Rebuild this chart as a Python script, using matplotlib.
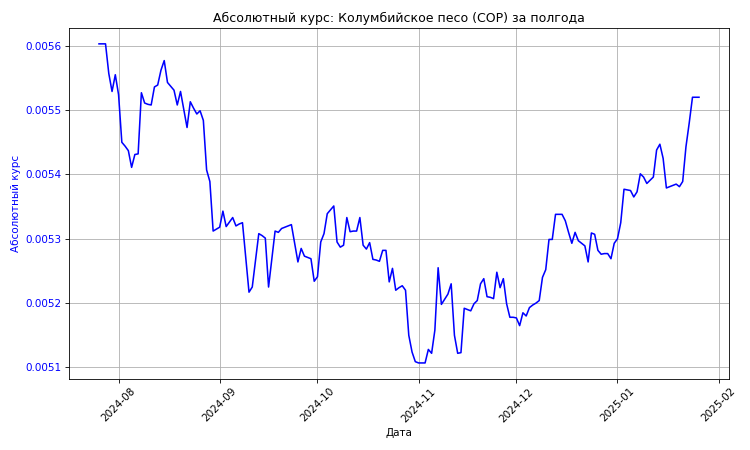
import matplotlib
matplotlib.use("Agg")
import matplotlib.pyplot as plt
import pandas as pd

# daily rates, 2024-07-26 .. 2025-01-26
start_date = "2024-07-26"

jul = [0.005603, 0.005603, 0.005603, 0.005557, 0.005529, 0.005555]
aug = [0.005524, 0.005450, 0.005444, 0.005437, 0.005411, 0.005431, 0.005432,
       0.005527, 0.005511, 0.005509, 0.005508, 0.005536, 0.005539, 0.005562,
       0.005577, 0.005543, 0.005537, 0.005531, 0.005508, 0.005529, 0.005501,
       0.005473, 0.005513, 0.005503, 0.005494, 0.005499, 0.005484, 0.005407,
       0.005389, 0.005312, 0.005315]
sep = [0.005318, 0.005343, 0.005319, 0.005326, 0.005333, 0.005320, 0.005323,
       0.005325, 0.005271, 0.005217, 0.005225, 0.005267, 0.005308, 0.005305,
       0.005301, 0.005225, 0.005268, 0.005312, 0.005310, 0.005316, 0.005318,
       0.005320, 0.005322, 0.005293, 0.005264, 0.005285, 0.005273, 0.005271,
       0.005269, 0.005234]
oct_ = [0.005241, 0.005295, 0.005308, 0.005339, 0.005345, 0.005351, 0.005295,
        0.005287, 0.005290, 0.005333, 0.005311, 0.005312, 0.005312, 0.005333,
        0.005290, 0.005284, 0.005294, 0.005268, 0.005267, 0.005265, 0.005282,
        0.005282, 0.005233, 0.005254, 0.005220, 0.005224, 0.005227, 0.005220,
        0.005150, 0.005124, 0.005109]
nov = [0.005107, 0.005107, 0.005107, 0.005128, 0.005122, 0.005158, 0.005255,
       0.005198, 0.005206, 0.005214, 0.005230, 0.005150, 0.005122, 0.005123,
       0.005192, 0.005190, 0.005188, 0.005199, 0.005204, 0.005230, 0.005238,
       0.005210, 0.005209, 0.005207, 0.005248, 0.005224, 0.005238, 0.005199,
       0.005178, 0.005178]
dec = [0.005177, 0.005165, 0.005185, 0.005180, 0.005193, 0.005197, 0.005200,
       0.005204, 0.005240, 0.005252, 0.005299, 0.005299, 0.005338, 0.005338,
       0.005338, 0.005328, 0.005310, 0.005293, 0.005310, 0.005297, 0.005293,
       0.005289, 0.005264, 0.005309, 0.005307, 0.005282, 0.005276, 0.005277,
       0.005277, 0.005269, 0.005293]
jan = [0.005300, 0.005325, 0.005377, 0.005376, 0.005375, 0.005365, 0.005373,
       0.005401, 0.005396, 0.005386, 0.005391, 0.005396, 0.005438, 0.005447,
       0.005425, 0.005379, 0.005381, 0.005383, 0.005385, 0.005381, 0.005389,
       0.005443, 0.005480, 0.005520, 0.005520, 0.005520]

rates = jul + aug + sep + oct_ + nov + dec + jan
dates = pd.date_range(start_date, periods=len(rates), freq="D")

fig, ax = plt.subplots(figsize=(10, 6), dpi=75)
ax.plot(dates, rates, color="blue", linewidth=1.5)
ax.set_title("Абсолютный курс: Колумбийское песо (COP) за полгода")
ax.set_xlabel("Дата")
ax.set_ylabel("Абсолютный курс", color="blue")
ax.tick_params(axis="y", labelcolor="blue")
ax.tick_params(axis="x", rotation=45)
ax.grid(True)
fig.subplots_adjust(left=0.092, right=0.972, top=0.938, bottom=0.158)
fig.savefig("out.png", dpi=75)
